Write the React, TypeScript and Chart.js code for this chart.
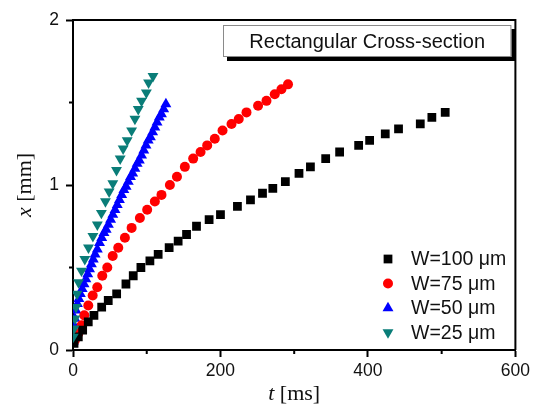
import React, { useEffect, useRef } from "react";
import { Chart, registerables } from "chart.js";
Chart.register(...registerables);

// ---- data ----
const tW100 = [1.4, 7.2, 13.1, 20.7, 28.4, 38.9, 47.8, 59.2, 71.8, 81.7, 92.1, 104.3, 115.5, 130.4, 142.6, 154, 167.5, 184.6, 200, 223, 240.7, 257, 271, 288, 306.5, 322, 342.7, 361.6, 387.4, 402.3, 423.5, 441.5, 471, 486.7, 504.8];
const xW100 = [0.04, 0.08, 0.12, 0.17, 0.21, 0.26, 0.3, 0.34, 0.4, 0.45, 0.5, 0.54, 0.58, 0.62, 0.66, 0.7, 0.75, 0.79, 0.82, 0.87, 0.91, 0.95, 0.98, 1.02, 1.07, 1.11, 1.16, 1.2, 1.24, 1.27, 1.31, 1.34, 1.37, 1.41, 1.44];

const tW75 = [2.7, 7.2, 11.8, 15.3, 20.7, 26.7, 32.9, 39.7, 46.5, 53.8, 61.4, 70.4, 79.5, 90.7, 100.6, 111, 120, 131.4, 141, 151.7, 163, 173, 182, 192.3, 202.8, 215, 224.8, 235.3, 251, 262.4, 273.6, 282.7, 291.6];
const xW75 = [0.06, 0.1, 0.15, 0.21, 0.27, 0.33, 0.38, 0.45, 0.5, 0.57, 0.62, 0.68, 0.74, 0.8, 0.85, 0.9, 0.94, 1.0, 1.05, 1.11, 1.16, 1.2, 1.24, 1.28, 1.33, 1.37, 1.4, 1.44, 1.48, 1.51, 1.55, 1.58, 1.61];

const tW50 = [0.3, 0.8, 1.5, 2.5, 4, 6, 8, 10, 12.5, 15, 17.5, 20, 22.5, 25, 27.5, 30, 33, 36, 39, 42, 45, 48, 51, 54, 57, 60, 63, 66, 69, 72, 75, 78, 81, 84, 87, 90, 93, 96, 99, 102, 105, 108, 111, 114, 117, 120, 123, 126];
const xW50 = [0.05, 0.1, 0.15, 0.19, 0.24, 0.28, 0.31, 0.34, 0.37, 0.4, 0.43, 0.46, 0.49, 0.52, 0.55, 0.58, 0.61, 0.65, 0.68, 0.71, 0.73, 0.76, 0.79, 0.82, 0.85, 0.88, 0.91, 0.94, 0.97, 0.99, 1.02, 1.05, 1.07, 1.1, 1.13, 1.15, 1.18, 1.21, 1.24, 1.27, 1.29, 1.32, 1.35, 1.38, 1.41, 1.43, 1.46, 1.49];

const tW25 = [0.4, 1.4, 2.7, 4.1, 5.5, 7.5, 11.5, 16, 21, 27, 33, 38.5, 44, 49, 54, 59, 64, 68, 73.5, 79.5, 84, 88.5, 93, 99.5, 102.5, 108.5];
const xW25 = [0.08, 0.13, 0.19, 0.26, 0.34, 0.41, 0.48, 0.55, 0.62, 0.69, 0.76, 0.83, 0.9, 0.96, 1.01, 1.09, 1.16, 1.22, 1.27, 1.33, 1.4, 1.46, 1.51, 1.56, 1.62, 1.66];

const seriesLabels = ["W=100 \u03bcm", "W=75 \u03bcm", "W=50 \u03bcm", "W=25 \u03bcm"];
const xMajorTicks = [0, 200, 400, 600];
const xMinorTicks = [100, 300, 500];
const yMajorTicks = [0, 1, 2];
const yMinorTicks = [0.5, 1.5];
const titleText = "Rectangular Cross-section";

const SANS = '"Liberation Sans", Arial, Helvetica, sans-serif';
const SERIF = '"Liberation Serif", "Times New Roman", serif';

const colors = ["#000000", "#ff0000", "#0000ff", "#0a7d78"];
const styles = ["rect", "circle", "triangle", "triangle"];
const rotations = [0, 0, 0, 180];
const radii = [6.2, 5, 6.3, 6.3];

function toPts(t: number[], x: number[]) {
  return t.map((v, i) => ({ x: v, y: x[i] }));
}

function drawMarker(ctx: CanvasRenderingContext2D, kind: number, x: number, y: number) {
  const r = radii[kind];
  ctx.save();
  ctx.fillStyle = colors[kind];
  ctx.beginPath();
  if (styles[kind] === "rect") {
    const s = Math.SQRT1_2 * r;
    ctx.rect(x - s, y - s, 2 * s, 2 * s);
  } else if (styles[kind] === "circle") {
    ctx.arc(x, y, r, 0, Math.PI * 2);
  } else {
    const rot = (rotations[kind] * Math.PI) / 180;
    for (let k = 0; k < 3; k++) {
      const a = rot + (k * 2 * Math.PI) / 3;
      const px = x + Math.sin(a) * r;
      const py = y - Math.cos(a) * r;
      if (k === 0) ctx.moveTo(px, py);
      else ctx.lineTo(px, py);
    }
    ctx.closePath();
  }
  ctx.fill();
  ctx.restore();
}

const decorPlugin = {
  id: "decor",
  beforeDatasetsDraw(chart: any) {
    const { ctx, chartArea } = chart;
    const { left, right, top, bottom } = chartArea;
    ctx.save();
    ctx.strokeStyle = "#000";
    ctx.lineWidth = 2;
    ctx.beginPath();
    ctx.moveTo(left, top);
    ctx.lineTo(right, top);
    ctx.lineTo(right, bottom);
    ctx.stroke();
    // minor ticks
    const xs = chart.scales.x;
    const ys = chart.scales.y;
    ctx.lineWidth = 2;
    ctx.beginPath();
    xMinorTicks.forEach((v) => {
      const p = xs.getPixelForValue(v);
      ctx.moveTo(p, bottom);
      ctx.lineTo(p, bottom + 4);
    });
    yMinorTicks.forEach((v) => {
      const p = ys.getPixelForValue(v);
      ctx.moveTo(left, p);
      ctx.lineTo(left - 4, p);
    });
    ctx.stroke();
    ctx.restore();
  },
  afterDraw(chart: any) {
    const { ctx, chartArea } = chart;
    const { left, right, top, bottom } = chartArea;
    ctx.save();
    // Title box with shadow
    const bx = left + 150, by = top + 5, bw = right - 4 - (left + 150), bh = 32;
    ctx.fillStyle = "#000";
    ctx.fillRect(bx + 4, by + 4, bw, bh);
    ctx.fillStyle = "#fff";
    ctx.fillRect(bx, by, bw, bh);
    ctx.strokeStyle = "#8a8a8a";
    ctx.lineWidth = 1;
    ctx.strokeRect(bx + 0.5, by + 0.5, bw - 1, bh - 1);
    ctx.fillStyle = "#111";
    ctx.font = `20px ${SANS}`;
    ctx.textAlign = "center";
    ctx.textBaseline = "middle";
    ctx.fillText(titleText, bx + bw / 2, by + bh / 2 + 1);

    // Legend
    const lx = left + 315;
    const ly0 = top + 239;
    const dy = 24.5;
    ctx.textAlign = "left";
    ctx.textBaseline = "middle";
    ctx.font = `19.5px ${SANS}`;
    seriesLabels.forEach((lab, i) => {
      const y = ly0 + i * dy;
      drawMarker(ctx, i, lx, y);
      ctx.fillStyle = "#111";
      ctx.fillText(lab, lx + 23, y + 1);
    });

    // Axis titles
    ctx.fillStyle = "#111";
    ctx.textBaseline = "alphabetic";
    const italic = `italic 22px ${SERIF}`;
    const normal = `22px ${SERIF}`;
    // x title
    ctx.font = italic;
    const wt = ctx.measureText("t").width;
    ctx.font = normal;
    const wr = ctx.measureText(" [ms]").width;
    const cx = (left + right) / 2;
    let sx = cx - (wt + wr) / 2;
    ctx.textAlign = "left";
    ctx.font = italic;
    ctx.fillText("t", sx, 400);
    ctx.font = normal;
    ctx.fillText(" [ms]", sx + wt, 400);
    // y title
    ctx.translate(31, (top + bottom) / 2);
    ctx.rotate(-Math.PI / 2);
    ctx.font = italic;
    const wx = ctx.measureText("x").width;
    ctx.font = normal;
    const wm = ctx.measureText(" [mm]").width;
    sx = -(wx + wm) / 2;
    ctx.font = italic;
    ctx.fillText("x", sx, 0);
    ctx.font = normal;
    ctx.fillText(" [mm]", sx + wx, 0);
    ctx.restore();
  },
};

export default function App() {
  const ref = useRef<HTMLCanvasElement | null>(null);
  useEffect(() => {
    if (!ref.current) return;
    const allT = [tW100, tW75, tW50, tW25];
    const allX = [xW100, xW75, xW50, xW25];
    const chart = new Chart(ref.current, {
      type: "scatter",
      data: {
        datasets: seriesLabels.map((lab, i) => ({
          label: lab,
          data: toPts(allT[i], allX[i]),
          pointStyle: styles[i] as any,
          rotation: rotations[i],
          pointRadius: radii[i],
          pointHoverRadius: radii[i],
          backgroundColor: colors[i],
          borderColor: colors[i],
          borderWidth: 0,
          order: i === 3 ? -1 : i,
        })),
      },
      options: {
        animation: false,
        responsive: false,
        devicePixelRatio: 1,
        layout: { padding: { left: 0, top: 20, right: 18, bottom: 0 } },
        plugins: { legend: { display: false }, tooltip: { enabled: false }, title: { display: false } },
        events: [],
        scales: {
          x: {
            type: "linear",
            min: 0,
            max: 600,
            afterFit: (s: any) => { s.height = 54; },
            afterBuildTicks: (s: any) => { s.ticks = xMajorTicks.map((v) => ({ value: v })); },
            grid: { display: true, drawOnChartArea: false, drawTicks: true, tickLength: 7, tickWidth: 2, tickColor: "#000", color: "#000" },
            border: { display: true, width: 2, color: "#000" },
            ticks: { color: "#111", font: { family: SANS, size: 17.5 }, padding: 4, autoSkip: false, maxRotation: 0 },
          },
          y: {
            type: "linear",
            min: 0,
            max: 2,
            afterFit: (s: any) => { s.width = 73; },
            afterBuildTicks: (s: any) => { s.ticks = yMajorTicks.map((v) => ({ value: v })); },
            grid: { display: true, drawOnChartArea: false, drawTicks: true, tickLength: 7, tickWidth: 2, tickColor: "#000", color: "#000" },
            border: { display: true, width: 2, color: "#000" },
            ticks: { color: "#111", font: { family: SANS, size: 17.5 }, padding: 7, autoSkip: false },
          },
        },
      },
      plugins: [decorPlugin],
    } as any);
    return () => chart.destroy();
  }, []);
  return (
    <div style={{ position: "absolute", left: 0, top: 0, width: 534, height: 404, background: "#fff" }}>
      <canvas ref={ref} width={534} height={404} style={{ width: 534, height: 404, display: "block" }} />
    </div>
  );
}
